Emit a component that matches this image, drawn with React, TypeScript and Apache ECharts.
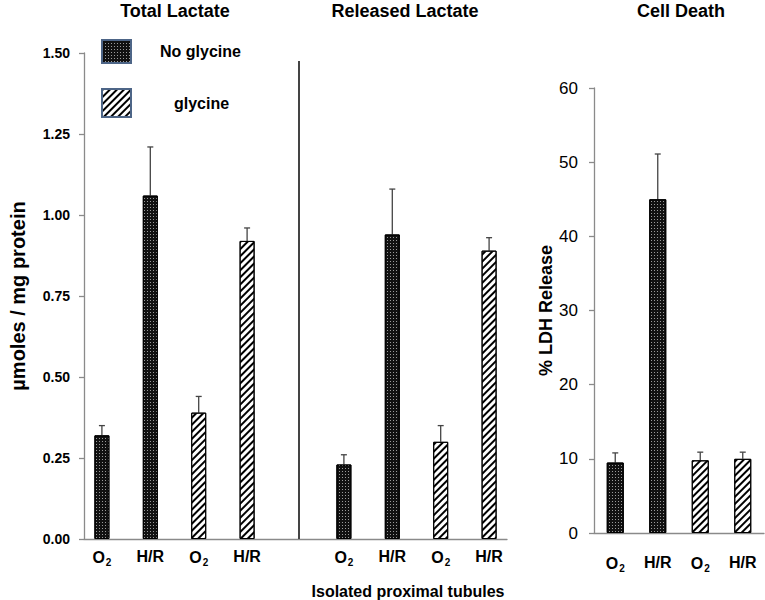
import React, { useEffect, useRef } from 'react';
import * as echarts from 'echarts';

// ---- data ----
const lactatePositions = [0, 1, 2, 3, 5, 6, 7, 8];
const lactateTickLabels = ['O2', 'H/R', 'O2', 'H/R', 'O2', 'H/R', 'O2', 'H/R'];

const totalNoGlycine = [0.32, 1.06];
const totalNoGlycineErr = [0.03, 0.15];
const totalGlycine = [0.39, 0.92];
const totalGlycineErr = [0.05, 0.04];

const releasedNoGlycine = [0.23, 0.94];
const releasedNoGlycineErr = [0.03, 0.14];
const releasedGlycine = [0.30, 0.89];
const releasedGlycineErr = [0.05, 0.04];

const ldhCategories = ['O2', 'H/R', 'O2 ', 'H/R '];
const ldhNoGlycine = [9.5, 45];
const ldhNoGlycineErr = [1.3, 6.1];
const ldhGlycine = [9.8, 10];
const ldhGlycineErr = [1.1, 0.9];

const FONT = '"Liberation Sans", Arial, sans-serif';

const dotsDecal = {
  symbol: 'rect',
  symbolSize: 1,
  dashArrayX: [1, 2],
  dashArrayY: [1, 2],
  color: '#9a9a9a',
  rotation: 0,
};
const hatchDecal = {
  symbol: 'rect',
  symbolSize: 1,
  dashArrayX: [1, 0],
  dashArrayY: [2, 3],
  rotation: -Math.PI / 4,
  color: '#000',
};

const richLabel = {
  m: { fontSize: 16, fontWeight: 'bold', fontFamily: FONT, color: '#000' },
  s: { fontSize: 10, fontWeight: 'bold', fontFamily: FONT, color: '#000', verticalAlign: 'bottom', padding: [9, 0, 0, 1] },
};
const fmtCond = (t: string) => (t.trim() === 'O2' ? '{m|O}{s|2}' : '{m|' + t.trim() + '}');

function errorSeries(xAxisIndex: number, yAxisIndex: number, data: any[]) {
  return {
    type: 'custom',
    xAxisIndex,
    yAxisIndex,
    data,
    silent: true,
    z: 1,
    renderItem: (params: any, api: any) => {
      const x = api.value(0);
      const y = api.value(1);
      const top = api.value(2);
      const p0 = api.coord([x, y]);
      const p1 = api.coord([x, top]);
      const hw = 3;
      const st = { stroke: '#444', lineWidth: 1.3 };
      return {
        type: 'group',
        children: [
          { type: 'line', shape: { x1: p0[0], y1: p0[1], x2: p1[0], y2: p1[1] }, style: st },
          { type: 'line', shape: { x1: p1[0] - hw, y1: p1[1], x2: p1[0] + hw, y2: p1[1] }, style: st },
        ],
      };
    },
  };
}

export default function App() {
  const ref = useRef<HTMLDivElement>(null);
  useEffect(() => {
    if (!ref.current) return;
    const chart = echarts.init(ref.current, null, { renderer: 'svg' });

    const noGlyLactate = [
      [lactatePositions[0], totalNoGlycine[0]],
      [lactatePositions[1], totalNoGlycine[1]],
      [lactatePositions[4], releasedNoGlycine[0]],
      [lactatePositions[5], releasedNoGlycine[1]],
    ];
    const glyLactate = [
      [lactatePositions[2], totalGlycine[0]],
      [lactatePositions[3], totalGlycine[1]],
      [lactatePositions[6], releasedGlycine[0]],
      [lactatePositions[7], releasedGlycine[1]],
    ];
    const lactateErr = [
      [lactatePositions[0], totalNoGlycine[0], totalNoGlycine[0] + totalNoGlycineErr[0]],
      [lactatePositions[1], totalNoGlycine[1], totalNoGlycine[1] + totalNoGlycineErr[1]],
      [lactatePositions[2], totalGlycine[0], totalGlycine[0] + totalGlycineErr[0]],
      [lactatePositions[3], totalGlycine[1], totalGlycine[1] + totalGlycineErr[1]],
      [lactatePositions[4], releasedNoGlycine[0], releasedNoGlycine[0] + releasedNoGlycineErr[0]],
      [lactatePositions[5], releasedNoGlycine[1], releasedNoGlycine[1] + releasedNoGlycineErr[1]],
      [lactatePositions[6], releasedGlycine[0], releasedGlycine[0] + releasedGlycineErr[0]],
      [lactatePositions[7], releasedGlycine[1], releasedGlycine[1] + releasedGlycineErr[1]],
    ];
    const ldhErr = [
      [0, ldhNoGlycine[0], ldhNoGlycine[0] + ldhNoGlycineErr[0]],
      [1, ldhNoGlycine[1], ldhNoGlycine[1] + ldhNoGlycineErr[1]],
      [2, ldhGlycine[0], ldhGlycine[0] + ldhGlycineErr[0]],
      [3, ldhGlycine[1], ldhGlycine[1] + ldhGlycineErr[1]],
    ];

    const axisLineStyle = { color: '#8a8a8a', width: 1.3 };

    chart.setOption({
      animation: false,
      backgroundColor: '#fff',
      grid: [
        { left: 79, top: 53, width: 428, height: 486 },
        { left: 594, top: 88, width: 170, height: 445 },
      ],
      legend: [
        {
          data: ['No glycine'],
          left: 101,
          top: 39,
          padding: 0,
          icon: 'rect',
          itemWidth: 29,
          itemHeight: 23,
          selectedMode: false,
          itemStyle: { borderColor: '#4d6587', borderWidth: 2 },
          textStyle: { fontSize: 16, fontWeight: 'bold', fontFamily: FONT, color: '#000', padding: [9, 0, 0, 24] },
        },
        {
          data: ['glycine'],
          left: 101,
          top: 88,
          padding: 0,
          icon: 'rect',
          itemWidth: 29,
          itemHeight: 28,
          selectedMode: false,
          itemStyle: { borderColor: '#4d6587', borderWidth: 2 },
          textStyle: { fontSize: 16, fontWeight: 'bold', fontFamily: FONT, color: '#000', padding: [0, 0, 0, 38] },
        },
      ],
      xAxis: [
        {
          type: 'value',
          gridIndex: 0,
          min: -0.37,
          max: 8.37,
          splitLine: { show: false },
          axisTick: { show: false },
          axisLine: { show: true, onZero: false, lineStyle: axisLineStyle },
          axisLabel: {
            customValues: lactatePositions,
            margin: 9,
            formatter: (v: number) => fmtCond(lactateTickLabels[lactatePositions.indexOf(Math.round(v))] || ''),
            rich: richLabel,
          },
        },
        {
          type: 'category',
          gridIndex: 1,
          data: ldhCategories,
          axisTick: { show: false },
          axisLine: { show: true, onZero: false, lineStyle: axisLineStyle },
          axisLabel: { margin: 21, formatter: (v: string) => fmtCond(v), rich: richLabel, interval: 0 },
        },
      ],
      yAxis: [
        {
          type: 'value',
          gridIndex: 0,
          min: 0,
          max: 1.5,
          interval: 0.25,
          splitLine: { show: false },
          axisLine: { show: true, onZero: false, lineStyle: axisLineStyle },
          axisTick: { show: true, length: 5, lineStyle: axisLineStyle },
          axisLabel: {
            formatter: (v: number) => v.toFixed(2),
            fontSize: 14,
            fontWeight: 'bold',
            fontFamily: FONT,
            color: '#000',
            margin: 14,
          },
          name: 'µmoles / mg protein',
          nameLocation: 'middle',
          nameRotate: 90,
          nameGap: 56,
          nameTextStyle: { fontSize: 20, fontWeight: 'bold', fontFamily: FONT, color: '#000' },
        },
        {
          type: 'value',
          gridIndex: 1,
          min: 0,
          max: 60,
          interval: 10,
          splitLine: { show: false },
          axisLine: { show: true, onZero: false, lineStyle: axisLineStyle },
          axisTick: { show: true, length: 5, lineStyle: axisLineStyle },
          axisLabel: { fontSize: 17, fontFamily: FONT, color: '#000', margin: 16 },
          name: '% LDH Release',
          nameLocation: 'middle',
          nameRotate: 90,
          nameGap: 38,
          nameTextStyle: { fontSize: 18, fontWeight: 'bold', fontFamily: FONT, color: '#000' },
        },
      ],
      graphic: [
        { type: 'text', x: 175, y: 11, style: { text: 'Total Lactate', align: 'center', verticalAlign: 'middle', fontSize: 18, fontWeight: 'bold', fontFamily: FONT, fill: '#000' } },
        { type: 'text', x: 405, y: 11, style: { text: 'Released Lactate', align: 'center', verticalAlign: 'middle', fontSize: 18, fontWeight: 'bold', fontFamily: FONT, fill: '#000' } },
        { type: 'text', x: 681, y: 11, style: { text: 'Cell Death', align: 'center', verticalAlign: 'middle', fontSize: 18, fontWeight: 'bold', fontFamily: FONT, fill: '#000' } },
        { type: 'text', x: 408, y: 591, style: { text: 'Isolated proximal tubules', align: 'center', verticalAlign: 'middle', fontSize: 16, fontWeight: 'bold', fontFamily: FONT, fill: '#000' } },
      ],
      series: [
        errorSeries(0, 0, lactateErr),
        errorSeries(1, 1, ldhErr),
        {
          name: 'No glycine',
          type: 'bar',
          xAxisIndex: 0,
          yAxisIndex: 0,
          barWidth: 15,
          barGap: '-100%',
          z: 2,
          data: noGlyLactate,
          itemStyle: { color: '#111', borderColor: '#000', borderWidth: 1, decal: dotsDecal },
          markLine: {
            silent: true,
            symbol: 'none',
            label: { show: false },
            lineStyle: { color: '#444', width: 2, type: 'solid' },
            data: [[{ coord: [4.06, 1.475] }, { coord: [4.06, 0] }]],
          },
        },
        {
          name: 'glycine',
          type: 'bar',
          xAxisIndex: 0,
          yAxisIndex: 0,
          barWidth: 15,
          barGap: '-100%',
          z: 2,
          data: glyLactate,
          itemStyle: { color: '#fff', borderColor: '#000', borderWidth: 1, decal: hatchDecal },
        },
        {
          name: 'No glycine',
          type: 'bar',
          xAxisIndex: 1,
          yAxisIndex: 1,
          barWidth: 17,
          barGap: '-100%',
          z: 2,
          data: [ldhNoGlycine[0], ldhNoGlycine[1], '-', '-'],
          itemStyle: { color: '#111', borderColor: '#000', borderWidth: 1, decal: dotsDecal },
        },
        {
          name: 'glycine',
          type: 'bar',
          xAxisIndex: 1,
          yAxisIndex: 1,
          barWidth: 17,
          barGap: '-100%',
          z: 2,
          data: ['-', '-', ldhGlycine[0], ldhGlycine[1]],
          itemStyle: { color: '#fff', borderColor: '#000', borderWidth: 1, decal: hatchDecal },
        },
      ],
    });
    return () => chart.dispose();
  }, []);
  return <div ref={ref} style={{ position: 'fixed', left: 0, top: 0, width: 765, height: 600 }} />;
}
